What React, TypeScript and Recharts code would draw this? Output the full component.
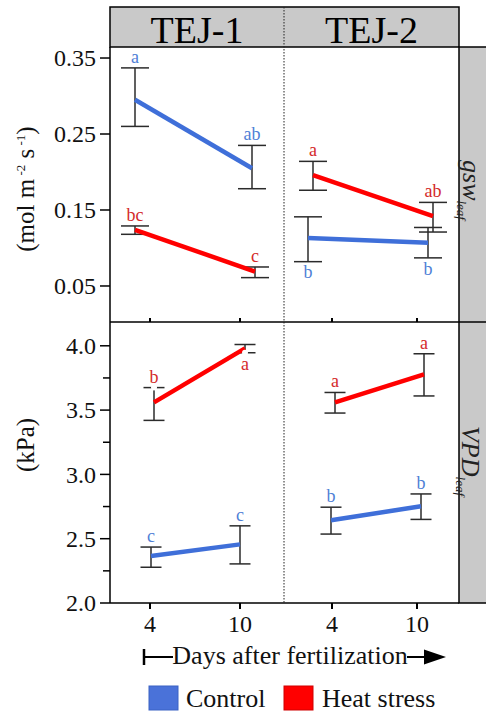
import React from 'react';
import { LineChart, Line, XAxis, YAxis, ErrorBar, LabelList } from 'recharts';

// ---------- data ----------
const days = [4, 10];
const genotypes = ['TEJ-1', 'TEJ-2'];
const treatments = ['Control', 'Heat stress'];

const gswTicks = [0.05, 0.15, 0.25, 0.35];
const vpdTicks = [2.0, 2.25, 2.5, 2.75, 3.0, 3.25, 3.5, 3.75, 4.0];
const vpdMajorTicks = [2.0, 2.5, 3.0, 3.5, 4.0];

// gsw_leaf (mol m-2 s-1), index [genotype][day]
const gswMeanControl = [[0.295, 0.205], [0.113, 0.107]];
const gswLowControl = [[0.26, 0.178], [0.082, 0.087]];
const gswHighControl = [[0.337, 0.235], [0.141, 0.127]];
const gswLettersControl = [['a', 'ab'], ['b', 'b']];
const gswSideControl = [['top', 'top'], ['bottom', 'bottom']];

const gswMeanHeat = [[0.124, 0.069], [0.196, 0.142]];
const gswLowHeat = [[0.118, 0.061], [0.176, 0.121]];
const gswHighHeat = [[0.129, 0.075], [0.214, 0.16]];
const gswLettersHeat = [['bc', 'c'], ['a', 'ab']];
const gswSideHeat = [['top', 'top'], ['top', 'top']];

// VPD_leaf (kPa)
const vpdMeanControl = [[2.365, 2.456], [2.644, 2.752]];
const vpdLowControl = [[2.278, 2.304], [2.536, 2.65]];
const vpdHighControl = [[2.435, 2.6], [2.745, 2.848]];
const vpdLettersControl = [['c', 'c'], ['b', 'b']];
const vpdSideControl = [['top', 'top'], ['top', 'top']];

const vpdMeanHeat = [[3.56, 3.98], [3.56, 3.778]];
const vpdLowHeat = [[3.42, 3.946], [3.477, 3.61]];
const vpdHighHeat = [[3.675, 4.01], [3.637, 3.938]];
const vpdLettersHeat = [['b', 'a'], ['a', 'a']];
const vpdSideHeat = [['top', 'bottom'], ['top', 'top']];

// ---------- styles ----------
const FONT = '"Liberation Serif", "Times New Roman", serif';
const BLUE = '#3f6fd9';
const RED = '#ff0000';
const BLUE_LBL = '#4f80d6';
const RED_LBL = '#d42a2a';
const ERR = '#2b2b2b';
const STRIP = '#c9c9c9';

type Row = { day: number; value: number; err: number[]; letter: string; side: string; lo: number; hi: number };

function buildRows(mean: number[], lo: number[], hi: number[], letters: string[], side: string[]): Row[] {
  return days.map((d, i) => ({
    day: d,
    value: mean[i],
    err: [mean[i] - lo[i], hi[i] - mean[i]],
    letter: letters[i],
    side: side[i],
    lo: lo[i],
    hi: hi[i],
  }));
}

function labelRows(rows: Row[], side: string) {
  return rows
    .filter((r) => r.side === side)
    .map((r) => ({ day: r.day, pos: side === 'top' ? r.hi : r.lo, letter: r.letter }));
}

type PanelProps = {
  left: number;
  top: number;
  width: number;
  height: number;
  marginTop: number;
  yDomain: number[];
  yTicks: number[];
  majorTicks: number[];
  digits: number;
  showY: boolean;
  topAxis: boolean;
  bottomAxis: boolean;
  ctrl: Row[];
  heat: Row[];
  ctrlPad: number[];
  heatPad: number[];
  tickPad: number[];
  cap: number;
};

function Panel(p: PanelProps) {
  const renderYTick = (t: any) => {
    const { x, y, payload } = t;
    const v = payload.value;
    const major = p.majorTicks.some((m) => Math.abs(m - v) < 1e-9);
    const axisX = x + 14;
    return (
      <g>
        <line x1={axisX - (major ? 10 : 7)} x2={axisX} y1={y} y2={y} stroke="#000" strokeWidth={1.5} />
        {major && (
          <text x={x} y={y} dy="0.35em" textAnchor="end" fontSize={24} fontFamily={FONT} fill="#111">
            {v.toFixed(p.digits)}
          </text>
        )}
      </g>
    );
  };

  const series = [
    { id: 'c', rows: p.ctrl, pad: p.ctrlPad, color: BLUE, lbl: BLUE_LBL },
    { id: 'h', rows: p.heat, pad: p.heatPad, color: RED, lbl: RED_LBL },
  ];

  return (
    <div style={{ position: 'absolute', left: p.left, top: p.top }}>
      <LineChart width={p.width} height={p.height} margin={{ top: p.marginTop, right: 0, bottom: 0, left: 0 }}>
        {p.topAxis && (
          <XAxis
            xAxisId="tt"
            orientation="top"
            type="number"
            dataKey="day"
            domain={[4, 10]}
            ticks={days}
            padding={{ left: p.tickPad[0], right: p.tickPad[1] }}
            height={6}
            tickSize={4}
            tickFormatter={() => ''}
            axisLine={{ stroke: '#000', strokeWidth: 1.5 }}
            tickLine={{ stroke: '#000', strokeWidth: 2 }}
          />
        )}
        {p.bottomAxis && (
          <XAxis
            xAxisId="tb"
            orientation="bottom"
            type="number"
            dataKey="day"
            domain={[4, 10]}
            ticks={days}
            padding={{ left: p.tickPad[0], right: p.tickPad[1] }}
            height={40}
            tickSize={6}
            tickMargin={6}
            axisLine={{ stroke: '#000', strokeWidth: 1.5 }}
            tickLine={{ stroke: '#000', strokeWidth: 2 }}
            tick={{ fontSize: 24, fontFamily: FONT, fill: '#111' }}
          />
        )}
        {series.map((s) => (
          <XAxis
            key={'x' + s.id}
            xAxisId={s.id}
            type="number"
            dataKey="day"
            domain={[4, 10]}
            padding={{ left: s.pad[0], right: s.pad[1] }}
            height={0}
            hide
          />
        ))}
        <YAxis
          yAxisId="y"
          type="number"
          domain={p.yDomain}
          ticks={p.yTicks}
          allowDataOverflow
          hide={!p.showY}
          width={110}
          tickSize={10}
          tickMargin={4}
          tickLine={false}
          axisLine={{ stroke: '#000', strokeWidth: 1.5 }}
          tick={renderYTick}
          interval={0}
        />
        {/* invisible carriers so the tick-only axes get a scale */}
        {p.topAxis && (
          <Line xAxisId="tt" yAxisId="y" data={p.ctrl} dataKey="value" stroke="none" dot={false} activeDot={false} isAnimationActive={false} />
        )}
        {p.bottomAxis && (
          <Line xAxisId="tb" yAxisId="y" data={p.ctrl} dataKey="value" stroke="none" dot={false} activeDot={false} isAnimationActive={false} />
        )}
        {series.map((s) => (
          <Line
            key={'l' + s.id}
            xAxisId={s.id}
            yAxisId="y"
            data={s.rows}
            dataKey="value"
            stroke={s.color}
            strokeWidth={4.5}
            dot={false}
            activeDot={false}
            isAnimationActive={false}
          >
            <ErrorBar dataKey="err" direction="y" width={p.cap} stroke={ERR} strokeWidth={1.5} isAnimationActive={false} />
          </Line>
        ))}
        {series.map((s) =>
          ['top', 'bottom'].map((side) => (
            <Line
              key={'lab' + s.id + side}
              xAxisId={s.id}
              yAxisId="y"
              data={labelRows(s.rows, side)}
              dataKey="pos"
              stroke="none"
              dot={false}
              activeDot={false}
              isAnimationActive={false}
            >
              <LabelList
                dataKey="letter"
                position={side === 'top' ? 'top' : 'bottom'}
                offset={side === 'top' ? 5 : 4}
                fill={s.lbl}
                fontSize={18}
                fontFamily={FONT}
              />
            </Line>
          ))
        )}
      </LineChart>
    </div>
  );
}

export default function App() {
  const gswDomain = [0.0026, 0.3645];
  const vpdDomain = [2.0, 4.185];

  const panelsTop = [0, 1].map((g) => ({
    ctrl: buildRows(gswMeanControl[g], gswLowControl[g], gswHighControl[g], gswLettersControl[g], gswSideControl[g]),
    heat: buildRows(gswMeanHeat[g], gswLowHeat[g], gswHighHeat[g], gswLettersHeat[g], gswSideHeat[g]),
  }));
  const panelsBottom = [0, 1].map((g) => ({
    ctrl: buildRows(vpdMeanControl[g], vpdLowControl[g], vpdHighControl[g], vpdLettersControl[g], vpdSideControl[g]),
    heat: buildRows(vpdMeanHeat[g], vpdLowHeat[g], vpdHighHeat[g], vpdLettersHeat[g], vpdSideHeat[g]),
  }));

  return (
    <div style={{ position: 'absolute', left: 0, top: 0, width: 486, height: 715, background: '#fff', overflow: 'hidden' }}>
      {/* top row: gsw */}
      <Panel
        left={0} top={27} width={284} height={295} marginTop={20}
        yDomain={gswDomain} yTicks={gswTicks} majorTicks={gswTicks} digits={2}
        showY topAxis={false} bottomAxis={false}
        ctrl={panelsTop[0].ctrl} heat={panelsTop[0].heat}
        ctrlPad={[25, 32]} heatPad={[25, 29]} tickPad={[40, 44]} cap={14}
      />
      <Panel
        left={284} top={27} width={175} height={295} marginTop={20}
        yDomain={gswDomain} yTicks={gswTicks} majorTicks={gswTicks} digits={2}
        showY={false} topAxis={false} bottomAxis={false}
        ctrl={panelsTop[1].ctrl} heat={panelsTop[1].heat}
        ctrlPad={[24, 31]} heatPad={[29, 26]} tickPad={[48, 42]} cap={14}
      />
      {/* bottom row: VPD */}
      <Panel
        left={0} top={316} width={284} height={327} marginTop={0}
        yDomain={vpdDomain} yTicks={vpdTicks} majorTicks={vpdMajorTicks} digits={1}
        showY topAxis bottomAxis
        ctrl={panelsBottom[0].ctrl} heat={panelsBottom[0].heat}
        ctrlPad={[41, 44]} heatPad={[44, 39]} tickPad={[40, 44]} cap={10.5}
      />
      <Panel
        left={284} top={316} width={175} height={327} marginTop={0}
        yDomain={vpdDomain} yTicks={vpdTicks} majorTicks={vpdMajorTicks} digits={1}
        showY={false} topAxis bottomAxis
        ctrl={panelsBottom[1].ctrl} heat={panelsBottom[1].heat}
        ctrlPad={[47, 38]} heatPad={[51, 35]} tickPad={[48, 42]} cap={10.5}
      />

      <svg width={486} height={715} style={{ position: 'absolute', left: 0, top: 0, pointerEvents: 'none' }}>
        {/* top strip */}
        <rect x={110} y={7} width={349} height={40} fill={STRIP} stroke="#000" strokeWidth={1.5} />
        <text x={197} y={43} textAnchor="middle" fontSize={38} fontFamily={FONT} fill="#000">{genotypes[0]}</text>
        <text x={371.5} y={43} textAnchor="middle" fontSize={38} fontFamily={FONT} fill="#000">{genotypes[1]}</text>
        {/* right strip */}
        <rect x={459} y={47} width={40} height={556} fill={STRIP} stroke="#000" strokeWidth={1.5} />
        <line x1={459} x2={486} y1={322} y2={322} stroke="#000" strokeWidth={1.5} />
        <text transform="translate(463,190) rotate(90)" textAnchor="middle" fontSize={26} fontStyle="italic" fontFamily={FONT} fill="#222">
          gsw<tspan fontSize={13} dy={6}>leaf</tspan>
        </text>
        <text transform="translate(462,461) rotate(90)" textAnchor="middle" fontSize={26} fontStyle="italic" fontFamily={FONT} fill="#222">
          VPD<tspan fontSize={13} dy={6}>leaf</tspan>
        </text>
        {/* divider between genotypes */}
        <line x1={284} x2={284} y1={7} y2={603} stroke="#222" strokeWidth={1} strokeDasharray="1.5 1.5" />
        {/* y titles */}
        <text transform="translate(34,189) rotate(-90)" textAnchor="middle" fontSize={25} fontFamily={FONT} fill="#111">
          (mol m<tspan fontSize={13} dy={-9}> -2</tspan><tspan dy={9}> s</tspan><tspan fontSize={13} dy={-9}> -1</tspan><tspan dy={9}>)</tspan>
        </text>
        <text transform="translate(34,445) rotate(-90)" textAnchor="middle" fontSize={25} fontFamily={FONT} fill="#111">
          (kPa)
        </text>
        {/* x title with arrow */}
        <line x1={144} x2={144} y1={649} y2={665} stroke="#000" strokeWidth={2.5} />
        <line x1={144} x2={173} y1={657} y2={657} stroke="#000" strokeWidth={2} />
        <text x={290} y={664} textAnchor="middle" fontSize={26} fontFamily={FONT} fill="#111">Days after fertilization</text>
        <line x1={407} x2={428} y1={657} y2={657} stroke="#000" strokeWidth={2} />
        <polygon points="424,649.5 446,657 424,664.5" fill="#000" />
        {/* legend */}
        <rect x={149} y={686} width={29} height={24} fill="#4a72d9" stroke="#3a62c4" strokeWidth={1} />
        <text x={186} y={707} fontSize={26} fontFamily={FONT} fill="#111">{treatments[0]}</text>
        <rect x={284} y={686} width={29} height={24} fill={RED} stroke="#d00000" strokeWidth={1} />
        <text x={322} y={707} fontSize={26} fontFamily={FONT} fill="#111">{treatments[1]}</text>
      </svg>
    </div>
  );
}
